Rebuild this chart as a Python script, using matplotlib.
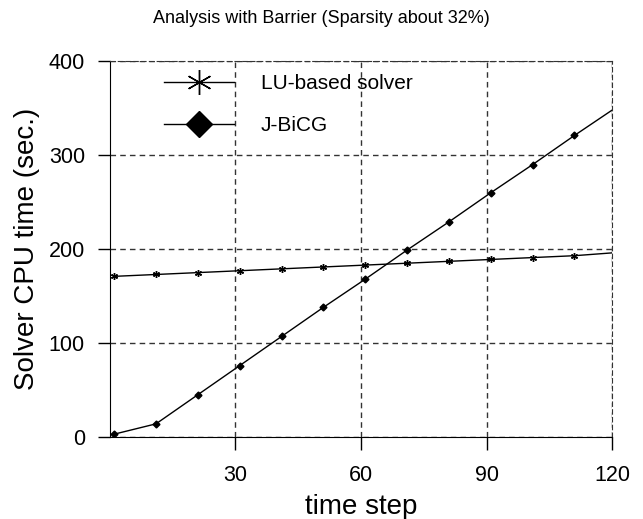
import numpy as np
import matplotlib.pyplot as plt
from matplotlib.lines import Line2D

plt.rcParams['font.family'] = ['Liberation Sans', 'DejaVu Sans']

# Data
steps = [1, 11, 21, 31, 41, 51, 61, 71, 81, 91, 101, 111, 120]
lu_time = [171, 173, 175, 177, 179, 181, 183, 185, 187, 189, 191, 193, 196]
bicg_time = [3, 14, 45, 76, 107, 138, 168, 199, 229, 260, 290, 321, 348]
series_names = ['LU-based solver', 'J-BiCG']

fig = plt.figure(figsize=(6.43, 5.19), dpi=100)
ax = fig.add_axes([0.171, 0.158, 0.781, 0.724])

star = (6, 2, 0)
marks = list(range(len(steps) - 1))  # last point is the axis edge, no marker
ax.plot(steps, lu_time, color='black', lw=1, marker=star, ms=5, markevery=marks)
ax.plot(steps, bicg_time, color='black', lw=1, marker='D', ms=3.5, markevery=marks)

ax.set_xlim(0, 120)
ax.set_ylim(0, 400)
ax.set_xticks([30, 60, 90, 120])
ax.set_yticks([0, 100, 200, 300, 400])
ax.grid(True, color='#333333', linestyle=(0, (4, 3)), lw=1)
for side in ['top', 'right']:
    ax.spines[side].set_linestyle((0, (4, 3)))
    ax.spines[side].set_color('#333333')
ax.tick_params(labelsize=15.5, length=9, width=1, direction='out', pad=9)
ax.tick_params(axis='x', pad=11)

ax.set_xlabel('time step', fontsize=20, labelpad=6)
ax.set_ylabel('Solver CPU time (sec.)', fontsize=20, labelpad=6)
fig.text(0.5, 0.965, 'Analysis with Barrier (Sparsity about 32%)', ha='center', va='center',
         fontsize=13)

handles = [Line2D([], [], color='black', lw=1, marker=star, ms=18),
           Line2D([], [], color='black', lw=1, marker='D', ms=13)]
ax.legend(handles, series_names, loc='upper left', bbox_to_anchor=(0.07, 1.016), frameon=False,
          fontsize=15, handlelength=3.35, labelspacing=1.1, handletextpad=1.3)

fig.savefig('out.png', dpi=100)
